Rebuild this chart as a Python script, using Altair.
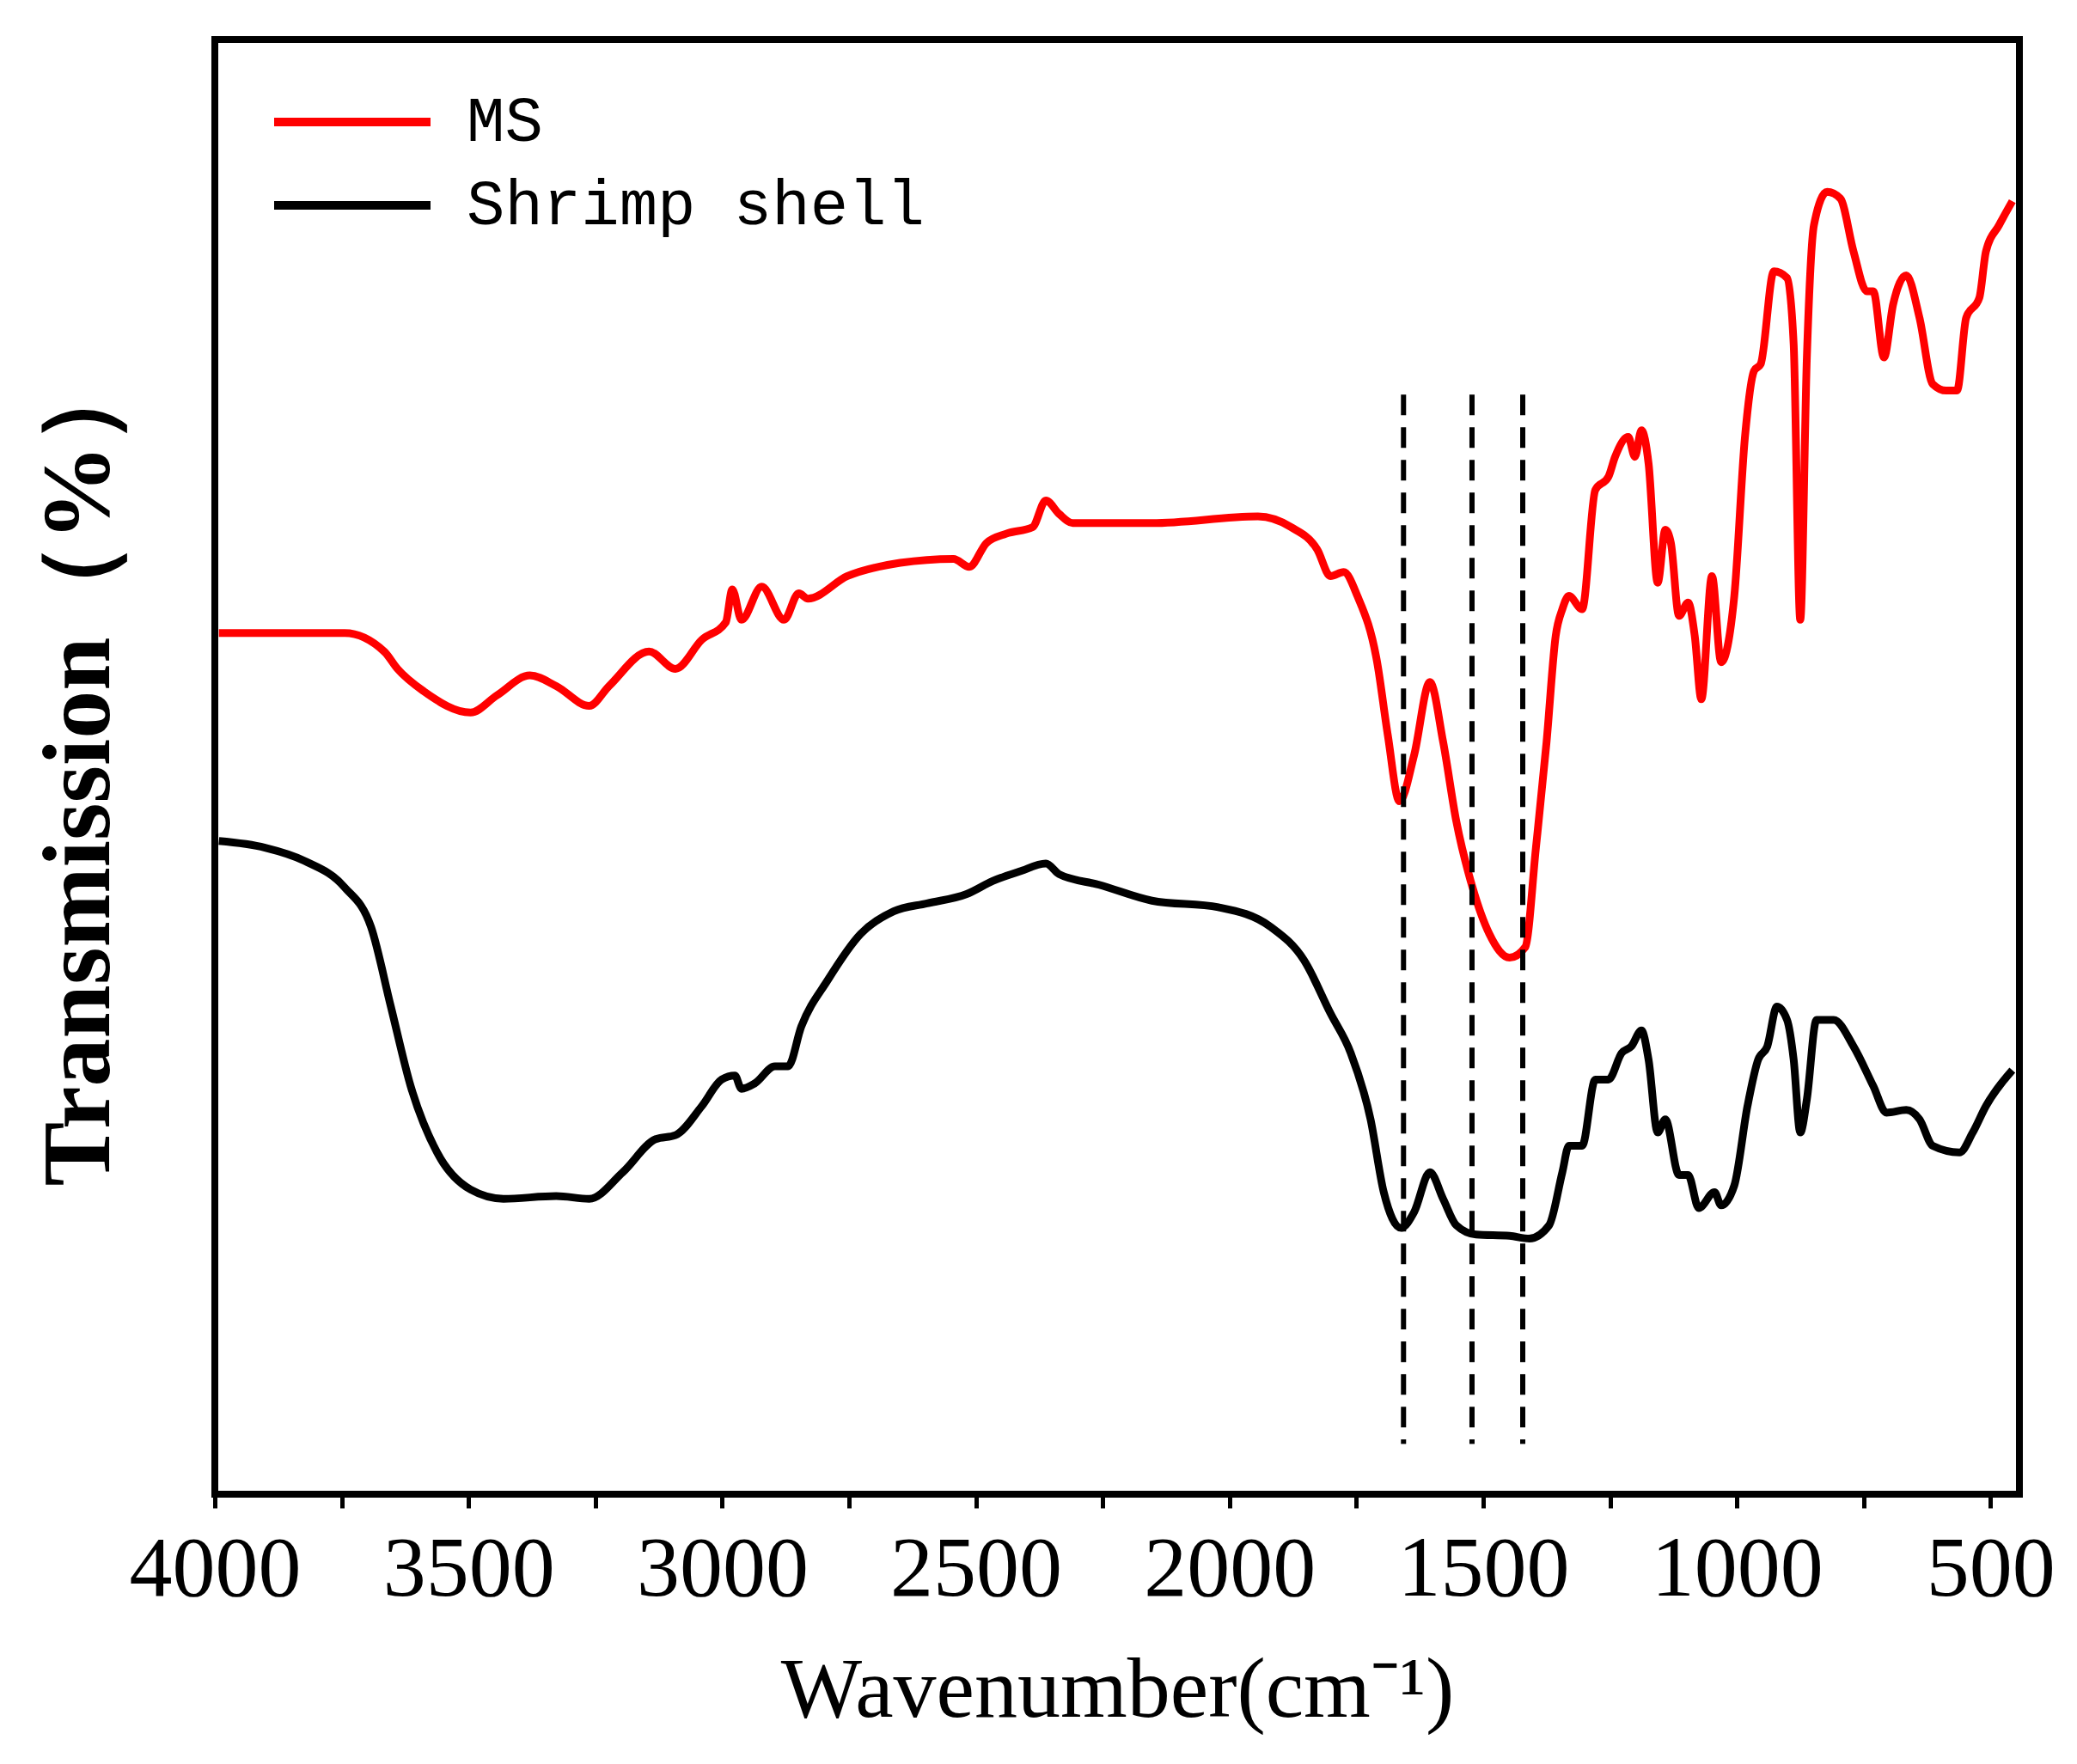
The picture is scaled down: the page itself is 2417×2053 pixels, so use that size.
import altair as alt
import pandas as pd

ms_wn = [3992, 3901, 3744, 3666, 3640, 3588, 3496, 3444, 3379, 3327, 3262, 3223, 3144, 3092, 3040, 2993, 2980, 2962, 2922, 2878,
         2849, 2831, 2753, 2649, 2544, 2513, 2479, 2440, 2388, 2362, 2336, 2309, 2153, 1944, 1879, 1827, 1801, 1775, 1748, 1709,
         1688, 1665, 1636, 1605, 1579, 1553, 1521, 1488, 1448, 1417, 1396, 1375, 1357, 1344, 1331, 1305, 1279, 1253, 1240, 1214,
         1201, 1188, 1174, 1156, 1141, 1130, 1114, 1096, 1083, 1070, 1049, 1031, 1005, 984, 966, 953, 927, 901, 888, 875,
         862, 848, 822, 796, 770, 744, 731, 710, 692, 666, 640, 614, 587, 566, 548, 522, 509, 483, 457]
ms_t = [650, 650, 650, 636, 623, 606, 590, 603, 618, 610, 595, 610, 636, 623, 645, 658, 683, 660, 685, 660,
        680, 676, 693, 703, 706, 700, 718, 725, 730, 750, 740, 733, 733, 738, 730, 713, 693, 696, 678, 628,
        573, 523, 558, 613, 568, 508, 458, 423, 405, 413, 488, 568, 648, 668, 678, 668, 758, 768, 783, 798,
        783, 803, 778, 688, 728, 718, 663, 673, 648, 600, 693, 628, 678, 798, 848, 853, 923, 918, 868, 660,
        858, 958, 983, 978, 938, 908, 908, 858, 898, 920, 888, 838, 833, 833, 888, 903, 938, 958, 976]

shell_wn = [3992, 3901, 3823, 3744, 3692, 3653, 3614, 3562, 3496, 3431, 3327, 3262, 3196, 3131, 3092, 3040, 3001, 2975, 2962, 2936,
            2896, 2870, 2844, 2792, 2727, 2662, 2596, 2518, 2466, 2414, 2362, 2336, 2257, 2153, 2022, 1918, 1853, 1801, 1761, 1722,
            1696, 1662, 1636, 1605, 1579, 1553, 1514, 1448, 1409, 1370, 1344, 1331, 1305, 1279, 1253, 1227, 1208, 1188, 1174, 1156,
            1141, 1114, 1096, 1075, 1044, 1031, 1005, 979, 958, 940, 921, 901, 888, 875, 862, 843, 809, 770, 731, 705,
            666, 640, 614, 561, 535, 509, 457]
shell_t = [493, 488, 478, 458, 428, 368, 308, 258, 230, 223, 225, 223, 243, 268, 271, 293, 313, 316, 306, 310,
           323, 323, 353, 388, 423, 440, 446, 453, 463, 470, 476, 468, 460, 448, 443, 428, 403, 363, 333, 283,
           228, 201, 213, 243, 223, 203, 196, 195, 193, 203, 243, 263, 263, 313, 313, 333, 338, 350, 328, 273,
           283, 241, 241, 216, 228, 218, 233, 293, 328, 338, 368, 358, 328, 273, 298, 358, 358, 338, 308, 288,
           290, 283, 263, 258, 273, 293, 320]

peak_wn = [1657, 1522, 1422]
peak_top, peak_bottom = 830, 38

ms = pd.DataFrame({"wn": ms_wn, "t": ms_t})
shell = pd.DataFrame({"wn": shell_wn, "t": shell_t})
peaks = pd.DataFrame({"wn": peak_wn, "top": peak_top, "bottom": peak_bottom})

x = alt.X("wn:Q", scale=alt.Scale(domain=[4000, 443], nice=False, zero=False),
          axis=alt.Axis(values=list(range(4000, 442, -250)), title="Wavenumber(cm⁻¹)",
                        labelExpr="datum.value % 500 == 0 ? datum.value : ''",
                        labelFont="Liberation Serif", labelFontSize=100, labelColor="black", labelPadding=22,
                        labelFlush=False, labelBound=False, labelOverlap=False, labelLimit=0,
                        titleFont="Liberation Serif", titleFontSize=100, titleFontWeight="normal", titleColor="black",
                        titlePadding=42, tickSize=16, tickWidth=5, tickColor="black", domain=False, grid=False))
y = alt.Y("t:Q", scale=alt.Scale(domain=[0, 1098], nice=False, zero=False),
          axis=alt.Axis(title="Transmission（%）", labels=False, ticks=False, domain=False, grid=False,
                        titleFont="Liberation Serif", titleFontSize=112, titleFontWeight="bold", titleColor="black",
                        titlePadding=100))

red = alt.Chart(ms).mark_line(color="#ff0000", strokeWidth=9, interpolate="monotone").encode(x=x, y=y)
black = alt.Chart(shell).mark_line(color="black", strokeWidth=9, interpolate="monotone").encode(x=x, y=y)
dash = alt.Chart(peaks).mark_rule(color="black", strokeWidth=6, strokeDash=[24, 14]).encode(
    x="wn:Q", y="top:Q", y2="bottom:Q")

leg_red = alt.Chart(ms).mark_rule(color="#ff0000", strokeWidth=10).encode(
    x=alt.value(69), x2=alt.value(251), y=alt.value(96))
leg_black = alt.Chart(ms).mark_rule(color="black", strokeWidth=10).encode(
    x=alt.value(69), x2=alt.value(251), y=alt.value(193))
legend_font = dict(font="Liberation Mono", fontSize=74, align="left", baseline="middle", color="black")
leg_red_text = alt.Chart(pd.DataFrame({"s": ["MS"]})).mark_text(**legend_font).encode(
    x=alt.value(293), y=alt.value(96), text="s:N")
leg_black_text = alt.Chart(pd.DataFrame({"s": ["Shrimp shell"]})).mark_text(**legend_font).encode(
    x=alt.value(293), y=alt.value(193), text="s:N")

chart = (
    alt.layer(black, red, dash, leg_red, leg_black, leg_red_text, leg_black_text)
    .properties(width=2100, height=1693, autosize="none",
                padding={"left": 242, "top": 38, "right": 50, "bottom": 280})
    .configure_view(stroke="black", strokeWidth=8)
)

chart.save("out.html", embed_options={"renderer": "svg", "actions": False})
